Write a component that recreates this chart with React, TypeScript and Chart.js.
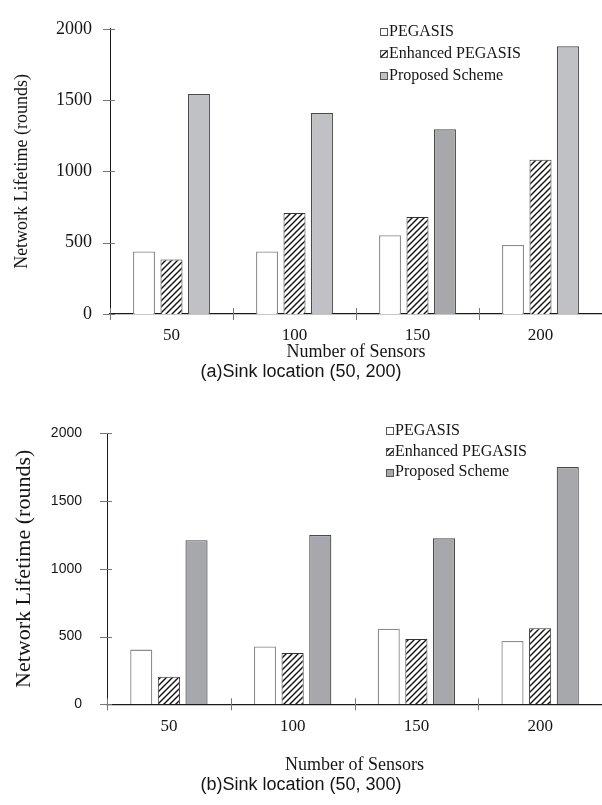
import React, { useEffect, useRef } from 'react';
import { Chart, registerables } from 'chart.js';

Chart.register(...registerables);

// ---------- data ----------
const categories = ['50', '100', '150', '200'];
const seriesNames = ['PEGASIS', 'Enhanced PEGASIS', 'Proposed Scheme'];
const yMin = 0;
const yMax = 2000;
const yStep = 500;

const pegasisA = [439, 439, 553, 484];
const enhancedA = [383, 709, 680, 1082];
const proposedA = [1543, 1409, 1296, 1878];

const pegasisB = [404, 427, 558, 467];
const enhancedB = [203, 378, 483, 561];
const proposedB = [1212, 1249, 1226, 1752];

const xTitle = 'Number of Sensors';
const yTitle = 'Network Lifetime (rounds)';
const captionA = '(a)Sink location (50, 200)';
const captionB = '(b)Sink location (50, 300)';

// ---------- styles ----------
const SERIF = "'Liberation Serif', 'Times New Roman', serif";
const SANS = "'Liberation Sans', Arial, sans-serif";
const INK = '#151515';

function makeHatch(): CanvasPattern | string {
  const c = document.createElement('canvas');
  c.width = 6;
  c.height = 6;
  const g = c.getContext('2d');
  if (!g) return '#888';
  g.fillStyle = '#ffffff';
  g.fillRect(0, 0, 6, 6);
  g.strokeStyle = '#111';
  g.lineWidth = 1.4;
  g.beginPath();
  g.moveTo(0, 6);
  g.lineTo(6, 0);
  g.moveTo(-1, 1);
  g.lineTo(1, -1);
  g.moveTo(5, 7);
  g.lineTo(7, 5);
  g.stroke();
  return g.createPattern(c, 'repeat') || '#888';
}

const decorPlugin = {
  id: 'decor',
  afterDraw(chart: any, _args: any, opts: any) {
    const ctx = chart.ctx as CanvasRenderingContext2D;
    const area = chart.chartArea;
    const ys = chart.scales.y;
    ctx.save();
    // crossing tick marks
    ctx.strokeStyle = '#777';
    ctx.lineWidth = 1;
    ys.ticks.forEach((_t: any, i: number) => {
      const py = Math.round(ys.getPixelForTick(i)) + 0.5;
      ctx.beginPath();
      ctx.moveTo(area.left - 7, py);
      ctx.lineTo(area.left + 5, py);
      ctx.stroke();
    });
    const n = chart.data.labels.length;
    const cw = (area.right - area.left) / n;
    for (let i = 0; i < n; i++) {
      const px = Math.round(area.left + i * cw) + 0.5;
      ctx.beginPath();
      ctx.moveTo(px, area.bottom - 6);
      ctx.lineTo(px, area.bottom + 6);
      ctx.stroke();
    }
    // legend
    ctx.font = `${opts.fontSize}px ${SERIF}`;
    ctx.textBaseline = 'middle';
    ctx.textAlign = 'left';
    chart.data.datasets.forEach((ds: any, i: number) => {
      const cy = opts.y + i * opts.gap;
      const s = opts.size;
      const bx = opts.x;
      const by = Math.round(cy - s / 2) + 0.5;
      const bg = Array.isArray(ds.backgroundColor) ? ds.backgroundColor[0] : ds.backgroundColor;
      ctx.fillStyle = bg;
      ctx.fillRect(bx, by, s, s);
      ctx.strokeStyle = '#555';
      ctx.lineWidth = 1;
      ctx.strokeRect(bx + 0.5, by, s, s);
      ctx.fillStyle = INK;
      ctx.fillText(ds.label, bx + s + 2, cy);
    });
    ctx.restore();
  },
};

interface Spec {
  height: number;
  pegasis: number[];
  enhanced: number[];
  proposed: number[];
  proposedColors: string[];
  caption: string;
  padTop: number;
  yWidth: number;
  yTickFont: any;
  yTickPad: number;
  yTitleSize: number;
  xHeight: number;
  xTickPad: number;
  captionPadBottom: number;
  legend: { x: number; y: number; gap: number; size: number; fontSize: number };
}

function makeConfig(spec: Spec): any {
  const hatch = makeHatch();
  return {
    type: 'bar',
    data: {
      labels: categories,
      datasets: [
        {
          label: seriesNames[0],
          data: spec.pegasis,
          backgroundColor: '#ffffff',
          borderColor: '#8c8c8c',
          borderWidth: 1.3,
        },
        {
          label: seriesNames[1],
          data: spec.enhanced,
          backgroundColor: hatch,
          borderColor: '#333',
          borderWidth: 1,
        },
        {
          label: seriesNames[2],
          data: spec.proposed,
          backgroundColor: spec.proposedColors,
          borderColor: '#4a4a4a',
          borderWidth: 1.2,
        },
      ],
    },
    options: {
      animation: false,
      responsive: false,
      devicePixelRatio: 1,
      layout: { padding: { top: spec.padTop, left: 0, right: 0, bottom: 0 } },
      datasets: { bar: { categoryPercentage: 0.67, barPercentage: 0.8 } },
      plugins: {
        legend: { display: false },
        tooltip: { enabled: false },
        title: {
          display: true,
          position: 'bottom',
          text: spec.caption,
          color: INK,
          font: { family: SANS, size: 18, weight: 'normal', lineHeight: 1.2 },
          padding: { top: 0, bottom: spec.captionPadBottom },
        },
        decor: spec.legend,
      },
      scales: {
        x: {
          grid: { display: false, drawTicks: false },
          border: { display: true, color: '#1a1a1a', width: 1.3 },
          ticks: {
            color: INK,
            font: { family: SERIF, size: 17, lineHeight: 1.2 },
            padding: spec.xTickPad,
            maxRotation: 0,
          },
          title: {
            display: true,
            text: xTitle,
            color: INK,
            font: { family: SERIF, size: 18, lineHeight: 1 },
            padding: { top: 0, bottom: 0 },
          },
          afterFit: (s: any) => {
            s.height = spec.xHeight;
          },
        },
        y: {
          min: yMin,
          max: yMax,
          grid: { display: false, drawTicks: false },
          border: { display: true, color: '#1a1a1a', width: 1 },
          ticks: {
            stepSize: yStep,
            color: INK,
            font: spec.yTickFont,
            padding: spec.yTickPad,
            callback: (v: any) => String(v),
          },
          title: {
            display: true,
            text: yTitle,
            color: INK,
            font: { family: SERIF, size: spec.yTitleSize, lineHeight: 1.2 },
            padding: { top: 11, bottom: 0 },
          },
          afterFit: (s: any) => {
            s.width = spec.yWidth;
          },
        },
      },
    },
    plugins: [decorPlugin],
  };
}

const specA: Spec = {
  height: 400,
  pegasis: pegasisA,
  enhanced: enhancedA,
  proposed: proposedA,
  proposedColors: ['#c0c1c5', '#c0c1c5', '#a7a8ab', '#c0c1c5'],
  caption: captionA,
  padTop: 15,
  yWidth: 110,
  yTickFont: { family: SERIF, size: 18, lineHeight: 1.2 },
  yTickPad: 18,
  yTitleSize: 18,
  xHeight: 47.2,
  xTickPad: 11,
  captionPadBottom: 17.2,
  legend: { x: 380, y: 31.7, gap: 22, size: 7, fontSize: 16 },
};

const specB: Spec = {
  height: 405,
  pegasis: pegasisB,
  enhanced: enhancedB,
  proposed: proposedB,
  proposedColors: ['#a7a8ab', '#a7a8ab', '#a7a8ab', '#a7a8ab'],
  caption: captionB,
  padTop: 19,
  yWidth: 107,
  yTickFont: { family: SANS, size: 14, lineHeight: 1.2 },
  yTickPad: 25,
  yTitleSize: 22,
  xHeight: 69.9,
  xTickPad: 12,
  captionPadBottom: 9.2,
  legend: { x: 386, y: 30.7, gap: 20.7, size: 7, fontSize: 16 },
};

function BarPanel({ spec, top }: { spec: Spec; top: number }) {
  const ref = useRef<HTMLCanvasElement>(null);
  useEffect(() => {
    if (!ref.current) return;
    const chart = new Chart(ref.current, makeConfig(spec));
    return () => chart.destroy();
  }, [spec]);
  return (
    <canvas
      ref={ref}
      width={602}
      height={spec.height}
      style={{ position: 'absolute', left: 0, top, width: 602, height: spec.height, display: 'block' }}
    />
  );
}

export default function App() {
  return (
    <div
      style={{
        position: 'absolute',
        left: 0,
        top: 0,
        width: 602,
        height: 805,
        background: '#ffffff',
        overflow: 'hidden',
      }}
    >
      <BarPanel spec={specA} top={0} />
      <BarPanel spec={specB} top={400} />
    </div>
  );
}
